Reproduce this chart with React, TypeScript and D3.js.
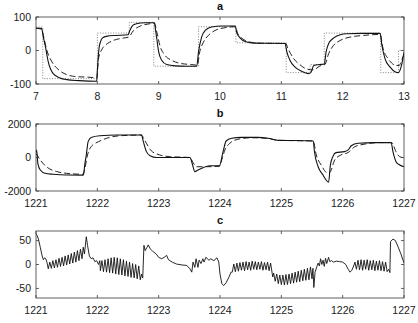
import React from "react";
import * as d3 from "d3";

// panel a: reference step, response (solid) and model (dashed)
const aRef: [number, number][] = [
  [7, 70], [7.11, -84], [8, 52], [8.52, 84], [8.92, -47], [9.65, 71], [10.26, 23],
  [11.08, -66], [11.47, -42], [11.7, 52], [12.62, -66], [12.91, 0], [13, 0],
];
const aSolid: [number, number][] = [
  [7, 67], [7.09, 66], [7.12, 40], [7.15, 15], [7.2, -34], [7.28, -69], [7.39, -82], [7.5, -87],
  [7.7, -90], [7.99, -92], [8.0, -60], [8.03, 10], [8.05, 25], [8.08, 37], [8.16, 43], [8.3, 45],
  [8.5, 47], [8.53, 60], [8.59, 77], [8.7, 82], [8.8, 83], [8.93, 83], [8.95, 60], [8.97, 35],
  [9.0, -4], [9.05, -29], [9.13, -42], [9.27, -46], [9.45, -47], [9.62, -47], [9.65, -4], [9.7, 40],
  [9.76, 60], [9.86, 70], [10.03, 73], [10.25, 73], [10.27, 55], [10.33, 37], [10.41, 27], [10.57, 22],
  [11.06, 21], [11.09, -4], [11.14, -29], [11.22, -49], [11.33, -62], [11.44, -69], [11.48, -66],
  [11.53, -45], [11.63, -42], [11.7, -40], [11.73, -4], [11.77, 20], [11.85, 37], [11.96, 47],
  [12.07, 50], [12.3, 51], [12.61, 51], [12.64, 15], [12.69, -24], [12.77, -49], [12.86, -64],
  [12.91, -66], [12.96, -44], [13, -5],
];
const aDashed: [number, number][] = [
  [7, 66], [7.09, 64], [7.12, 45], [7.17, 5], [7.26, -34], [7.36, -56], [7.5, -72], [7.66, -78],
  [7.88, -80], [7.99, -82], [8.02, -24], [8.08, 5], [8.16, 20], [8.26, 30], [8.42, 37], [8.51, 40],
  [8.59, 60], [8.7, 73], [8.86, 80], [8.93, 82], [8.97, 55], [9.02, 15], [9.1, -14], [9.21, -29],
  [9.37, -39], [9.54, -42], [9.63, -44], [9.67, -4], [9.73, 25], [9.81, 45], [9.92, 60], [10.08, 68],
  [10.25, 71], [10.29, 50], [10.37, 35], [10.49, 25], [10.68, 21], [11.07, 21], [11.11, 5], [11.2, -24],
  [11.3, -42], [11.41, -55], [11.52, -58], [11.63, -46], [11.71, -42], [11.77, -10], [11.85, 15],
  [11.96, 30], [12.12, 40], [12.34, 45], [12.61, 48], [12.66, 5], [12.74, -24], [12.86, -44],
  [12.92, -45], [12.96, -30], [13, -12],
];

// panel b
const bSolid: [number, number][] = [
  [1221, 300], [1221.01, 450], [1221.03, -346], [1221.07, -746], [1221.15, -945], [1221.28, -1000],
  [1221.5, -1045], [1221.77, -1050], [1221.8, -300], [1221.82, 150], [1221.85, 945], [1221.9, 1200],
  [1222.04, 1300], [1222.32, 1340], [1222.72, 1340], [1222.75, 945], [1222.8, 350], [1222.86, 110],
  [1222.97, 0], [1223.51, 0], [1223.55, -400], [1223.59, -845], [1223.64, -750], [1223.84, -490],
  [1223.99, -500], [1224.05, 346], [1224.1, 985], [1224.19, 1145], [1224.35, 1200], [1224.62, 1200],
  [1224.78, 1145], [1224.95, 1025], [1225.44, 1000], [1225.52, 985], [1225.54, 346], [1225.6, -550],
  [1225.68, -1045], [1225.73, -1345], [1225.77, -1480], [1225.8, -450], [1225.84, 50], [1225.89, 290],
  [1226.03, 350], [1226.09, 450], [1226.14, 700], [1226.25, 850], [1226.52, 890], [1226.79, 890],
  [1226.82, 346], [1226.87, -250], [1226.93, -450], [1227, -550],
];
const bDashed: [number, number][] = [
  [1221, 250], [1221.07, -150], [1221.17, -550], [1221.34, -845], [1221.5, -945], [1221.77, -1000],
  [1221.8, -600], [1221.84, 150], [1221.9, 650], [1222.02, 945], [1222.15, 1145], [1222.37, 1300],
  [1222.72, 1340], [1222.76, 1100], [1222.8, 850], [1222.88, 400], [1223.02, 150], [1223.18, 50],
  [1223.51, 0], [1223.56, -300], [1223.62, -550], [1223.78, -550], [1223.99, -520], [1224.04, 0],
  [1224.08, 450], [1224.16, 850], [1224.29, 1085], [1224.51, 1180], [1224.78, 1145], [1224.95, 1025],
  [1225.52, 985], [1225.57, 150], [1225.65, -450], [1225.76, -945], [1225.8, -850], [1225.87, -150],
  [1225.97, 150], [1226.09, 300], [1226.2, 650], [1226.36, 800], [1226.6, 890], [1226.8, 890],
  [1226.87, 346], [1226.93, 50], [1227, -20],
];

// panel c: residual
const cSolid: [number, number][] = [
  [1221, 64], [1221.02, 60], [1221.04, 53], [1221.07, 36], [1221.1, 18], [1221.12, 10], [1221.14, 14],
  [1221.16, 12], [1221.18, 4],
  [1221.2, -9], [1221.225, 5], [1221.25, -8], [1221.275, 8], [1221.3, -7], [1221.325, 10], [1221.35, -6],
  [1221.375, 13], [1221.4, -4], [1221.425, 15], [1221.45, -3], [1221.475, 18], [1221.5, -1], [1221.525, 20],
  [1221.55, 1], [1221.575, 23], [1221.6, 3], [1221.625, 26], [1221.65, 5], [1221.675, 29], [1221.7, 8],
  [1221.725, 32], [1221.75, 12], [1221.77, 36], [1221.79, 22], [1221.82, 58], [1221.84, 40], [1221.87, 18],
  [1221.9, 12], [1221.93, 14], [1221.96, 6], [1221.99, 8], [1222.02, 0], [1222.04, 8],
  [1222.05, -13], [1222.075, 8], [1222.1, -15], [1222.125, 10], [1222.15, -16], [1222.175, 12],
  [1222.2, -17], [1222.225, 14], [1222.25, -18], [1222.275, 15], [1222.3, -20], [1222.325, 14],
  [1222.35, -21], [1222.375, 12], [1222.4, -22], [1222.425, 10], [1222.45, -24], [1222.475, 7],
  [1222.5, -25], [1222.525, 5], [1222.55, -27], [1222.575, 2], [1222.6, -28], [1222.625, 0],
  [1222.65, -30], [1222.675, -3], [1222.7, -32], [1222.72, -20], [1222.74, -28], [1222.76, 40],
  [1222.78, 29], [1222.81, 36], [1222.83, 41], [1222.86, 33], [1222.9, 28], [1222.96, 22], [1223.0, 15],
  [1223.05, 12], [1223.1, 16], [1223.13, 19], [1223.16, 10], [1223.22, 5], [1223.29, 1], [1223.38, -1],
  [1223.46, -2], [1223.51, -9], [1223.54, -16], [1223.56, 5], [1223.59, -6], [1223.61, 12], [1223.64, -6],
  [1223.66, 9], [1223.69, 2], [1223.72, 12], [1223.74, 5], [1223.77, 15], [1223.82, 9], [1223.85, 12],
  [1223.9, 8], [1223.95, 14], [1223.98, 5], [1224.0, -20], [1224.03, -40], [1224.06, -44], [1224.1, -38],
  [1224.14, -28], [1224.18, -16],
  [1224.2, -16], [1224.225, 1], [1224.25, -15], [1224.275, 3], [1224.3, -14], [1224.325, 4], [1224.35, -12],
  [1224.375, 5], [1224.4, -13], [1224.425, 6], [1224.45, -11], [1224.475, 5], [1224.5, -12], [1224.525, 7],
  [1224.55, -10], [1224.575, 6], [1224.6, -11], [1224.625, 5], [1224.65, -10], [1224.675, 6], [1224.7, -12],
  [1224.725, 4], [1224.75, -11], [1224.775, 5], [1224.8, -13], [1224.825, 3], [1224.86, -26],
  [1224.875, -18], [1224.9, -35], [1224.925, -20], [1224.95, -40], [1224.975, -22], [1225.0, -42],
  [1225.025, -22], [1225.05, -43], [1225.075, -21], [1225.1, -42], [1225.125, -20], [1225.15, -40],
  [1225.175, -18], [1225.2, -39], [1225.225, -16], [1225.25, -37], [1225.275, -14], [1225.3, -36],
  [1225.325, -12], [1225.35, -34], [1225.375, -10], [1225.4, -33], [1225.425, -8], [1225.45, -32],
  [1225.475, -5], [1225.5, -30], [1225.515, -8], [1225.53, -48], [1225.55, -16], [1225.58, -4],
  [1225.6, 3], [1225.62, -3], [1225.64, 12], [1225.66, 0], [1225.68, 9], [1225.7, -4], [1225.72, 13],
  [1225.74, 2], [1225.77, 15], [1225.79, 6], [1225.82, 8], [1225.85, 5], [1225.9, 7], [1225.95, 6],
  [1226.0, 5], [1226.05, 0], [1226.09, -10], [1226.12, -16], [1226.15, -12], [1226.18, -3],
  [1226.2, 5], [1226.225, -10], [1226.25, 9], [1226.275, -11], [1226.3, 10], [1226.325, -12], [1226.35, 9],
  [1226.375, -10], [1226.4, 10], [1226.425, -12], [1226.45, 8], [1226.475, -11], [1226.5, 9],
  [1226.525, -13], [1226.55, 7], [1226.575, -12], [1226.6, 8], [1226.625, -13], [1226.65, 6],
  [1226.675, -14], [1226.7, 5], [1226.725, -15], [1226.75, -10], [1226.77, -17], [1226.78, 48],
  [1226.82, 53], [1226.86, 50], [1226.9, 38], [1226.95, 22], [1227, 3],
];

const aXTicks = [7, 8, 9, 10, 11, 12, 13];
const bcXTicks = [1221, 1222, 1223, 1224, 1225, 1226, 1227];
const aYTicks = [-100, 0, 100];
const bYTicks = [-2000, 0, 2000];
const cYTicks = [-50, 0, 50];

type Series = { data: [number, number][]; dash?: string; color: string; curve: d3.CurveFactory; width: number };

function Panel({ id, title, top, xDomain, yDomain, xTicks, yTicks, series }: {
  id: string; title: string; top: number; xDomain: [number, number]; yDomain: [number, number];
  xTicks: number[]; yTicks: number[]; series: Series[];
}) {
  const left = 36, right = 404, h = 67;
  const x = d3.scaleLinear().domain(xDomain).range([left, right]);
  const y = d3.scaleLinear().domain(yDomain).range([top + h, top]);
  const axisColor = "#3a3a3a";
  const tick = 3;

  return (
    <g>
      <defs>
        <clipPath id={`clip-${id}`}>
          <rect x={left} y={top} width={right - left} height={h} />
        </clipPath>
      </defs>
      <text x={(left + right) / 2} y={top - 7} textAnchor="middle" fontSize={11} fontWeight="bold" fill="#111">
        {title}
      </text>
      <g clipPath={`url(#clip-${id})`}>
        {series.map((s, i) => {
          const line = d3.line<[number, number]>().x(d => x(d[0])).y(d => y(d[1])).curve(s.curve);
          return (
            <path key={i} d={line(s.data) ?? ""} fill="none" stroke={s.color}
              strokeWidth={s.width} strokeDasharray={s.dash} />
          );
        })}
      </g>
      <rect x={left} y={top} width={right - left} height={h} fill="none" stroke={axisColor} strokeWidth={0.8} />
      {xTicks.map(t => (
        <g key={`x${t}`}>
          <line x1={x(t)} x2={x(t)} y1={top + h} y2={top + h - tick} stroke={axisColor} strokeWidth={0.8} />
          <line x1={x(t)} x2={x(t)} y1={top} y2={top + tick} stroke={axisColor} strokeWidth={0.8} />
          <text x={x(t)} y={top + h + 16} textAnchor="middle" fontSize={10.5} fill="#1a1a1a">{t}</text>
        </g>
      ))}
      {yTicks.map(t => (
        <g key={`y${t}`}>
          <line x1={left} x2={left + tick} y1={y(t)} y2={y(t)} stroke={axisColor} strokeWidth={0.8} />
          <line x1={right} x2={right - tick} y1={y(t)} y2={y(t)} stroke={axisColor} strokeWidth={0.8} />
          <text x={left - 5} y={y(t) + 3.8} textAnchor="end" fontSize={10.5} fill="#1a1a1a">{t}</text>
        </g>
      ))}
    </g>
  );
}

export default function App() {
  const smooth = d3.curveMonotoneX;
  return (
    <svg width={418} height={323} style={{ position: "absolute", left: 0, top: 0, background: "#fff" }}
      fontFamily="'Liberation Sans', Arial, Helvetica, sans-serif">
      <rect width={418} height={323} fill="#fff" />
      <Panel id="a" title="a" top={17} xDomain={[7, 13]} yDomain={[-100, 100]} xTicks={aXTicks} yTicks={aYTicks}
        series={[
          { data: aRef, color: "#777", dash: "1 1.6", curve: d3.curveStepAfter, width: 0.9 },
          { data: aDashed, color: "#222", dash: "6 3", curve: smooth, width: 1 },
          { data: aSolid, color: "#111", curve: smooth, width: 1.1 },
        ]} />
      <Panel id="b" title="b" top={124} xDomain={[1221, 1227]} yDomain={[-2000, 2000]} xTicks={bcXTicks} yTicks={bYTicks}
        series={[
          { data: bDashed, color: "#222", dash: "6 3", curve: smooth, width: 1 },
          { data: bSolid, color: "#111", curve: smooth, width: 1.1 },
        ]} />
      <Panel id="c" title="c" top={231} xDomain={[1221, 1227]} yDomain={[-70, 70]} xTicks={bcXTicks} yTicks={cYTicks}
        series={[
          { data: cSolid, color: "#111", curve: d3.curveLinear, width: 0.9 },
        ]} />
    </svg>
  );
}
